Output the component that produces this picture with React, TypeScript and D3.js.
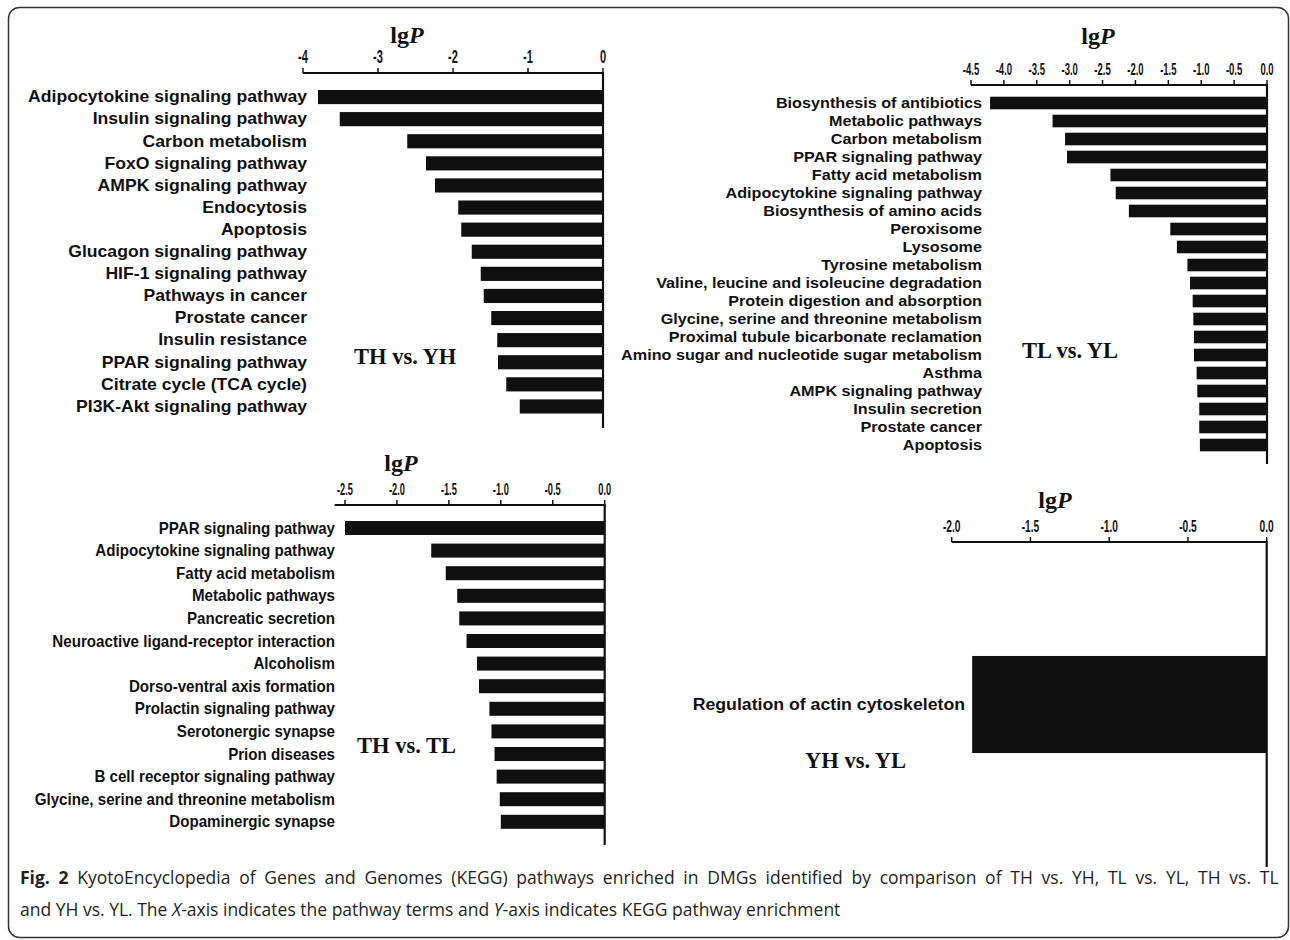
import React from "react";
import * as d3 from "d3";

// TH vs. YH
const thyhTerms = [
  "Adipocytokine signaling pathway",
  "Insulin signaling pathway",
  "Carbon metabolism",
  "FoxO signaling pathway",
  "AMPK signaling pathway",
  "Endocytosis",
  "Apoptosis",
  "Glucagon signaling pathway",
  "HIF-1 signaling pathway",
  "Pathways in cancer",
  "Prostate cancer",
  "Insulin resistance",
  "PPAR signaling pathway",
  "Citrate cycle (TCA cycle)",
  "PI3K-Akt signaling pathway",
];
const thyhValues = [-3.8, -3.51, -2.61, -2.36, -2.24, -1.93, -1.89, -1.75, -1.63, -1.59, -1.49, -1.41, -1.4, -1.29, -1.11];
const thyhTicks = [-4, -3, -2, -1, 0];
const thyhTickLabels = ["-4", "-3", "-2", "-1", "0"];

// TL vs. YL
const tlylTerms = [
  "Biosynthesis of antibiotics",
  "Metabolic pathways",
  "Carbon metabolism",
  "PPAR signaling pathway",
  "Fatty acid metabolism",
  "Adipocytokine signaling pathway",
  "Biosynthesis of amino acids",
  "Peroxisome",
  "Lysosome",
  "Tyrosine metabolism",
  "Valine, leucine and isoleucine degradation",
  "Protein digestion and absorption",
  "Glycine, serine and threonine metabolism",
  "Proximal tubule bicarbonate reclamation",
  "Amino sugar and nucleotide sugar metabolism",
  "Asthma",
  "AMPK signaling pathway",
  "Insulin secretion",
  "Prostate cancer",
  "Apoptosis",
];
const tlylValues = [-4.21, -3.26, -3.07, -3.04, -2.38, -2.3, -2.1, -1.47, -1.37, -1.21, -1.17, -1.13, -1.12, -1.11, -1.11, -1.07, -1.06, -1.03, -1.03, -1.02];
const tlylTicks = [-4.5, -4, -3.5, -3, -2.5, -2, -1.5, -1, -0.5, 0];
const tlylTickLabels = ["-4.5", "-4.0", "-3.5", "-3.0", "-2.5", "-2.0", "-1.5", "-1.0", "-0.5", "0.0"];

// TH vs. TL
const thtlTerms = [
  "PPAR signaling pathway",
  "Adipocytokine signaling pathway",
  "Fatty acid metabolism",
  "Metabolic pathways",
  "Pancreatic secretion",
  "Neuroactive ligand-receptor interaction",
  "Alcoholism",
  "Dorso-ventral axis formation",
  "Prolactin signaling pathway",
  "Serotonergic synapse",
  "Prion diseases",
  "B cell receptor signaling pathway",
  "Glycine, serine and threonine metabolism",
  "Dopaminergic synapse",
];
const thtlValues = [-2.5, -1.67, -1.53, -1.42, -1.4, -1.33, -1.23, -1.21, -1.11, -1.09, -1.06, -1.04, -1.01, -1.0];
const thtlTicks = [-2.5, -2, -1.5, -1, -0.5, 0];
const thtlTickLabels = ["-2.5", "-2.0", "-1.5", "-1.0", "-0.5", "0.0"];

// YH vs. YL
const yhylTerms = ["Regulation of actin cytoskeleton"];
const yhylValues = [-1.87];
const yhylTicks = [-2, -1.5, -1, -0.5, 0];
const yhylTickLabels = ["-2.0", "-1.5", "-1.0", "-0.5", "0.0"];

const SANS = "'Liberation Sans', Arial, Helvetica, sans-serif";
const SERIF = "'Liberation Serif', 'Times New Roman', serif";

type PanelProps = {
  terms: string[];
  values: number[];
  ticks: number[];
  tickLabels: string[];
  domain: [number, number];
  xRange: [number, number];
  axisY: number;
  bandRange: [number, number];
  padInner: number;
  padOuter: number;
  bottom: number;
  labelX: number;
  labelSize: number;
  labelSx: number;
  tickSize: number;
  tickSx: number;
  title: string;
  titleX: number;
  titleY: number;
  lgX: number;
  lgY: number;
};

function Panel(p: PanelProps) {
  const x = d3.scaleLinear().domain(p.domain).range(p.xRange);
  const y = d3
    .scaleBand()
    .domain(p.terms)
    .range(p.bandRange)
    .paddingInner(p.padInner)
    .paddingOuter(p.padOuter);
  const bw = y.bandwidth();

  return (
    <g>
      {/* axis title */}
      <text x={p.lgX} y={p.lgY} textAnchor="middle" fontFamily={SERIF} fontWeight="bold" fontSize={24} fill="#111">
        lg<tspan fontStyle="italic">P</tspan>
      </text>

      {/* top axis */}
      <line x1={x(p.domain[0])} x2={x(p.domain[1])} y1={p.axisY} y2={p.axisY} stroke="#111" strokeWidth={2} />
      {p.ticks.map((t, i) => (
        <g key={i}>
          <line x1={x(t)} x2={x(t)} y1={p.axisY} y2={p.axisY - 5} stroke="#111" strokeWidth={1.5} />
          <text
            transform={`translate(${x(t)},${p.axisY - 10}) scale(${p.tickSx},1)`}
            textAnchor="middle"
            fontFamily={SANS}
            fontWeight="bold"
            fontSize={p.tickSize}
            fill="#111"
          >
            {p.tickLabels[i]}
          </text>
        </g>
      ))}

      {/* bars */}
      {p.terms.map((term, i) => (
        <rect
          key={term}
          x={x(p.values[i])}
          y={y(term)}
          width={x(0) - x(p.values[i])}
          height={bw}
          fill="#0f0f0f"
        />
      ))}

      {/* zero line */}
      <line x1={x(0)} x2={x(0)} y1={p.axisY - 1} y2={p.bottom} stroke="#111" strokeWidth={2.2} />

      {/* category labels */}
      {p.terms.map((term) => (
        <text
          key={term}
          transform={`translate(${p.labelX},${(y(term) ?? 0) + bw / 2}) scale(${p.labelSx},1)`}
          textAnchor="end"
          dominantBaseline="central"
          fontFamily={SANS}
          fontWeight="bold"
          fontSize={p.labelSize}
          fill="#111"
        >
          {term}
        </text>
      ))}

      {/* comparison title */}
      <text x={p.titleX} y={p.titleY} fontFamily={SERIF} fontWeight="bold" fontSize={22.5} fill="#111">
        {p.title}
      </text>
    </g>
  );
}

export default function App() {
  return (
    <div style={{ position: "absolute", left: 0, top: 0 }}>
      <svg width={1290} height={940} style={{ display: "block", background: "#fff" }}>
        <rect x={8.5} y={7.5} width={1280} height={930} rx={11} fill="none" stroke="#333" strokeWidth={1.5} />

        <Panel
          terms={thyhTerms}
          values={thyhValues}
          ticks={thyhTicks}
          tickLabels={thyhTickLabels}
          domain={[-4, 0]}
          xRange={[303, 603]}
          axisY={73}
          bandRange={[86, 86 + 15 * 22.1]}
          padInner={0.36}
          padOuter={0.18}
          bottom={428}
          labelX={307}
          labelSize={16.5}
          labelSx={1.068}
          tickSize={19}
          tickSx={0.58}
          title="TH vs. YH"
          titleX={354}
          titleY={364}
          lgX={407}
          lgY={43}
        />

        <Panel
          terms={tlylTerms}
          values={tlylValues}
          ticks={tlylTicks}
          tickLabels={tlylTickLabels}
          domain={[-4.5, 0]}
          xRange={[971, 1267]}
          axisY={85}
          bandRange={[94, 94 + 20 * 18]}
          padInner={0.3}
          padOuter={0.15}
          bottom={464}
          labelX={982}
          labelSize={15}
          labelSx={1.08}
          tickSize={17}
          tickSx={0.56}
          title="TL vs. YL"
          titleX={1022}
          titleY={358}
          lgX={1098}
          lgY={44}
        />

        <Panel
          terms={thtlTerms}
          values={thtlValues}
          ticks={thtlTicks}
          tickLabels={thtlTickLabels}
          domain={[-2.6, 0]}
          xRange={[334.6, 604.7]}
          axisY={505}
          bandRange={[516.7, 516.7 + 14 * 22.6]}
          padInner={0.38}
          padOuter={0.19}
          bottom={845}
          labelX={335}
          labelSize={16.3}
          labelSx={0.93}
          tickSize={16.5}
          tickSx={0.56}
          title="TH vs. TL"
          titleX={357}
          titleY={753}
          lgX={401}
          lgY={471}
        />

        <Panel
          terms={yhylTerms}
          values={yhylValues}
          ticks={yhylTicks}
          tickLabels={yhylTickLabels}
          domain={[-2, 0]}
          xRange={[951.7, 1266.7]}
          axisY={542}
          bandRange={[542, 867]}
          padInner={0.54}
          padOuter={0.54}
          bottom={867}
          labelX={965}
          labelSize={17.2}
          labelSx={1.03}
          tickSize={16.5}
          tickSx={0.62}
          title="YH vs. YL"
          titleX={805}
          titleY={768}
          lgX={1055}
          lgY={508}
        />

        {/* caption */}
        <text x={20} y={884} fontFamily="'Open Sans', sans-serif" fontSize={17.5} wordSpacing={4.2} fill="#231f20">
          <tspan fontWeight="bold">Fig. 2</tspan> KyotoEncyclopedia of Genes and Genomes (KEGG) pathways enriched in DMGs identified by comparison of TH vs. YH, TL vs. YL, TH vs. TL
        </text>
        <text x={20} y={916} fontFamily="'Open Sans', sans-serif" fontSize={17.5} fill="#231f20">
          and YH vs. YL. The <tspan fontStyle="italic">X</tspan>-axis indicates the pathway terms and <tspan fontStyle="italic">Y</tspan>-axis indicates KEGG pathway enrichment
        </text>
      </svg>
    </div>
  );
}
